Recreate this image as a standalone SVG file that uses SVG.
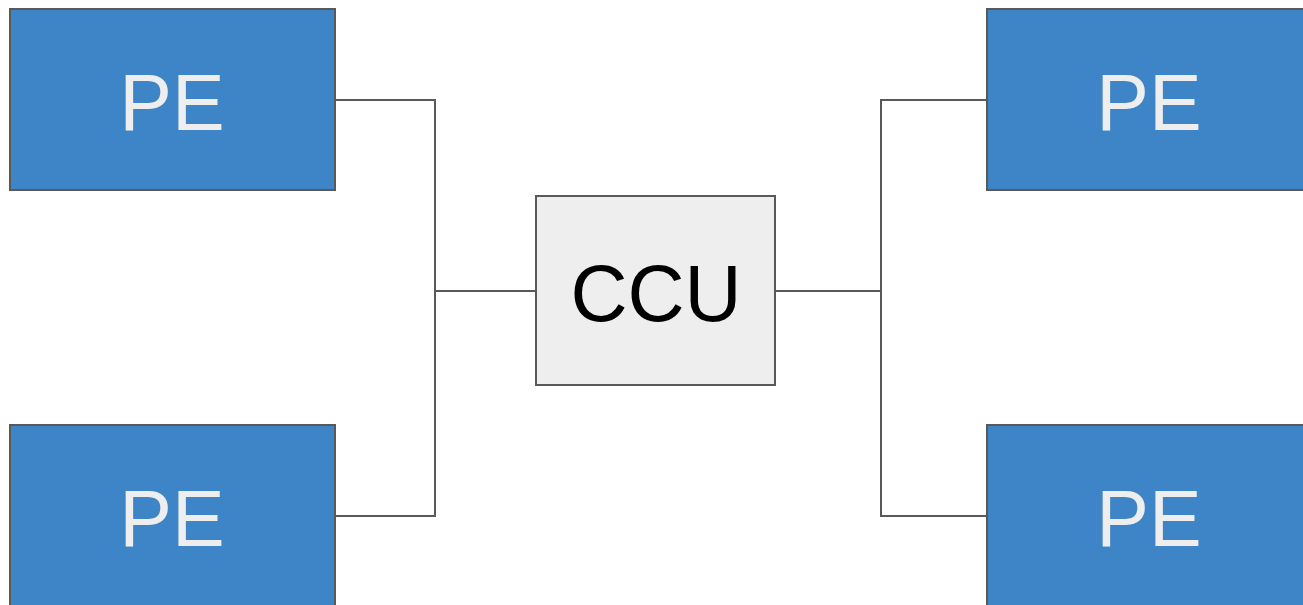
<svg xmlns="http://www.w3.org/2000/svg" width="1303" height="605" viewBox="0 0 1303 605">
<style>
.pe rect{fill:#3d85c6;stroke:#595959;stroke-width:2}
.pe text{fill:#eeeeee}
text{font-family:"Liberation Sans",Arial,sans-serif;font-size:79px;text-anchor:middle}
.ccu rect{fill:#eeeeee;stroke:#595959;stroke-width:2}
.ccu text{fill:#000000}
#connectors path{fill:none;stroke:#595959;stroke-width:2}
</style>
<rect width="1303" height="605" fill="#ffffff"/>
<g id="connectors">
<path d="M335 100H435V516H335"/>
<path d="M435 291H536"/>
<path d="M775 291H881"/>
<path d="M987 100H881V516H987"/>
</g>
<g id="pe-top-left" class="pe"><rect x="10" y="9" width="325" height="181"/><text x="172" y="130">PE</text></g>
<g id="pe-bottom-left" class="pe"><rect x="10" y="425" width="325" height="190"/><text x="172" y="546">PE</text></g>
<g id="pe-top-right" class="pe"><rect x="987" y="9" width="330" height="181"/><text x="1149" y="130">PE</text></g>
<g id="pe-bottom-right" class="pe"><rect x="987" y="425" width="330" height="190"/><text x="1149" y="546">PE</text></g>
<g id="ccu" class="ccu"><rect x="536" y="196" width="239" height="189"/><text x="656" y="321">CCU</text></g>
</svg>
